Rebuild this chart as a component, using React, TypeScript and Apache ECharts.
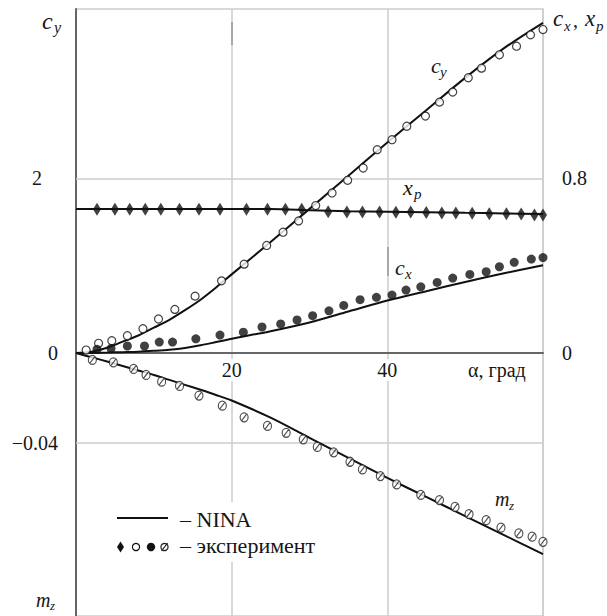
import React, { useEffect, useRef } from 'react';
import * as echarts from 'echarts';

// ---------- data ----------
const alphaLine = [0, 2, 4, 6, 8, 10, 12, 14, 16, 18, 20, 25, 30, 35, 40, 45, 50, 55, 60];
const cyLine = [0, 0.015, 0.06, 0.13, 0.2, 0.29, 0.38, 0.49, 0.61, 0.75, 0.9, 1.27, 1.65, 2.03, 2.41, 2.78, 3.15, 3.49, 3.78];
const cxLine = [0, 0.0005, 0.002, 0.004, 0.006, 0.01, 0.015, 0.023, 0.035, 0.05, 0.065, 0.1, 0.14, 0.19, 0.24, 0.283, 0.325, 0.365, 0.402];
const xpLine = [0.659, 0.659, 0.659, 0.659, 0.659, 0.659, 0.659, 0.659, 0.659, 0.659, 0.659, 0.659, 0.654, 0.649, 0.647, 0.645, 0.642, 0.639, 0.636];
const mzLine = [0, -0.0019, -0.0038, -0.0058, -0.0078, -0.0098, -0.012, -0.0142, -0.0164, -0.0187, -0.0212, -0.0288, -0.0378, -0.0468, -0.0557, -0.0642, -0.0727, -0.0812, -0.0897];

const alphaCyExp = [1.3, 2.9, 4.6, 6.6, 8.6, 10.6, 12.7, 15.3, 18.7, 21.6, 24.5, 26.6, 28.6, 30.8, 32.9, 34.9, 36.9, 38.7, 40.6, 42.5, 44.9, 46.7, 48.4, 50.4, 52.1, 54.4, 56.6, 58.4, 60.0];
const cyExp = [0.034, 0.111, 0.141, 0.198, 0.278, 0.389, 0.499, 0.651, 0.826, 1.017, 1.231, 1.383, 1.512, 1.688, 1.832, 1.977, 2.118, 2.328, 2.442, 2.596, 2.712, 2.872, 2.987, 3.151, 3.261, 3.414, 3.512, 3.642, 3.703];

const alphaCxExp = [2.7, 4.5, 6.6, 8.8, 10.7, 12.4, 15.4, 18.5, 21.5, 23.9, 26.3, 28.4, 30.4, 32.5, 34.4, 36.5, 38.6, 40.6, 42.4, 44.3, 46.4, 48.4, 50.6, 52.7, 54.4, 56.3, 58.5, 60.0];
const cxExp = [0.017, 0.021, 0.032, 0.032, 0.05, 0.05, 0.065, 0.082, 0.095, 0.119, 0.133, 0.151, 0.171, 0.193, 0.218, 0.244, 0.255, 0.265, 0.288, 0.303, 0.323, 0.343, 0.36, 0.372, 0.395, 0.415, 0.43, 0.437];

const alphaXpExp = [2.7, 5.0, 6.9, 8.9, 10.9, 13.3, 15.8, 18.5, 21.9, 24.6, 26.9, 29.0, 32.4, 34.8, 36.8, 39.0, 41.1, 43.0, 45.0, 47.0, 48.8, 50.9, 53.1, 55.3, 57.2, 58.9, 60.0];
const xpExp = [0.658, 0.658, 0.658, 0.658, 0.658, 0.658, 0.658, 0.658, 0.658, 0.658, 0.658, 0.658, 0.647, 0.646, 0.646, 0.646, 0.645, 0.646, 0.643, 0.641, 0.641, 0.64, 0.638, 0.638, 0.636, 0.632, 0.632];

const alphaMzExp = [2.1, 4.8, 7.4, 9.0, 11.0, 13.3, 15.8, 18.8, 21.6, 24.6, 27.0, 29.2, 31.0, 33.1, 35.2, 36.8, 39.1, 41.2, 44.3, 46.7, 48.7, 50.5, 52.7, 54.6, 56.9, 58.6, 60.0];
const mzExp = [-0.0031, -0.0042, -0.0071, -0.0098, -0.0128, -0.0147, -0.019, -0.0235, -0.0287, -0.0325, -0.0356, -0.0385, -0.0419, -0.0443, -0.0485, -0.0519, -0.0549, -0.0586, -0.0633, -0.0656, -0.0686, -0.0718, -0.0745, -0.0779, -0.0804, -0.0819, -0.0842];

const xTickLabels = [20, 40];
const cyTickLabels = [0, 2];
const cxTickLabels = [0, 0.8];
const mzTickLabels = [-0.04];
const cyGrid = [2];
const mzGrid = [-0.04];

// ---------- layout / style ----------
const SERIF = 'Liberation Serif';
const INK = '#161616';
const GRID_C = '#cdcdcd';
const W = 607, H = 616;
const G_LEFT = 76, G_RIGHT = 543, G_TOP = 9, G_BOTTOM = 616;
const ZERO_PX = 353;
const up = ZERO_PX - G_TOP, down = G_BOTTOM - ZERO_PX;
const CY_U = 87.35, CX_U = 218.4, MZ_U = 2242.5;

const pairs = (xs: number[], ys: number[]) => xs.map((x, i) => [x, ys[i]]);
const CROSSED = 'path://M1,10 A9,9 0 1,1 19,10 A9,9 0 1,1 1,10 Z M4,17 L16,3';

function txt(text: string, x: number, baseline: number, size: number, italic = false, align = 'left') {
  return {
    type: 'text',
    x,
    y: baseline - 0.34 * size,
    z: 50,
    style: {
      text,
      fontFamily: SERIF,
      fontSize: size,
      fontStyle: italic ? 'italic' : 'normal',
      fill: INK,
      textAlign: align,
      textVerticalAlign: 'middle',
    },
  };
}

export default function App() {
  const ref = useRef<HTMLDivElement>(null);
  useEffect(() => {
    const chart = echarts.init(ref.current!, null, { renderer: 'svg' });
    const labelStyle = { fontSize: 20, fontFamily: SERIF, color: INK };
    const option: any = {
      animation: false,
      backgroundColor: '#fff',
      grid: {
        left: G_LEFT, right: W - G_RIGHT, top: G_TOP, bottom: H - G_BOTTOM,
        containLabel: false, outerBoundsMode: 'none',
        show: true, borderColor: GRID_C, borderWidth: 1.5, backgroundColor: 'transparent',
      },
      xAxis: {
        type: 'value', min: 0, max: 60, interval: 20,
        position: 'bottom',
        offset: -(G_BOTTOM - ZERO_PX),
        axisLine: { onZero: false, lineStyle: { color: '#666', width: 2 } },
        axisTick: { show: false },
        splitLine: { show: true, lineStyle: { color: GRID_C, width: 1.5 } },
        axisLabel: {
          ...labelStyle,
          customValues: xTickLabels,
          formatter: (v: number) => (xTickLabels.includes(v) ? String(v) : ''),
          margin: 6,
          backgroundColor: '#fff',
          padding: [1, 3, 1, 3],
        },
      },
      yAxis: [
        {
          type: 'value', position: 'left', min: -down / CY_U, max: up / CY_U,
          splitLine: { show: false }, axisTick: { show: false },
          axisLine: { show: true, onZero: false, lineStyle: { color: '#666', width: 2 } },
          axisLabel: {
            ...labelStyle,
            customValues: cyTickLabels,
            margin: 18,
            formatter: (v: number) => (Math.abs(v - 2) < 1e-9 ? '{p|2}' : Math.abs(v) < 1e-9 ? '0' : ''),
            rich: { p: { ...labelStyle, padding: [0, 16, 0, 0] } },
          },
        },
        {
          type: 'value', position: 'right', min: -down / CX_U, max: up / CX_U,
          splitLine: { show: false }, axisTick: { show: false }, axisLine: { show: false },
          axisLabel: {
            ...labelStyle,
            customValues: cxTickLabels,
            margin: 19,
            formatter: (v: number) => (Math.abs(v - 0.8) < 1e-9 ? '0.8' : Math.abs(v) < 1e-9 ? '0' : ''),
          },
        },
        {
          type: 'value', position: 'left', min: -down / MZ_U, max: up / MZ_U,
          splitLine: { show: false }, axisTick: { show: false }, axisLine: { show: false },
          axisLabel: {
            ...labelStyle,
            customValues: mzTickLabels,
            margin: 18,
            formatter: (v: number) => (Math.abs(v + 0.04) < 1e-9 ? '\u22120.04' : ''),
          },
        },
      ],
      series: [
        {
          type: 'line', yAxisIndex: 0, data: pairs(alphaLine, cyLine), showSymbol: false, smooth: 0.3,
          lineStyle: { color: '#111', width: 2 }, z: 3,
          markLine: {
            silent: true, symbol: 'none', label: { show: false },
            lineStyle: { color: GRID_C, width: 1.5, type: 'solid' },
            data: cyGrid.map((v) => ({ yAxis: v })), z: 1,
          },
        },
        { type: 'line', yAxisIndex: 1, data: pairs(alphaLine, cxLine), showSymbol: false, smooth: 0.3, lineStyle: { color: '#111', width: 2 }, z: 3 },
        { type: 'line', yAxisIndex: 1, data: pairs(alphaLine, xpLine), showSymbol: false, smooth: 0.3, lineStyle: { color: '#111', width: 2 }, z: 3 },
        {
          type: 'line', yAxisIndex: 2, data: pairs(alphaLine, mzLine), showSymbol: false, smooth: 0.3,
          lineStyle: { color: '#111', width: 2 }, z: 3,
          markLine: {
            silent: true, symbol: 'none', label: { show: false },
            lineStyle: { color: GRID_C, width: 1.5, type: 'solid' },
            data: mzGrid.map((v) => ({ yAxis: v })), z: 1,
          },
        },
        {
          type: 'scatter', yAxisIndex: 0, data: pairs(alphaCyExp, cyExp), symbol: 'circle', symbolSize: 8, clip: false,
          itemStyle: { color: '#fff', borderColor: '#111', borderWidth: 1.2 }, z: 5,
        },
        {
          type: 'scatter', yAxisIndex: 1, data: pairs(alphaCxExp, cxExp), symbol: 'circle', symbolSize: 9, clip: false,
          itemStyle: { color: '#111' }, z: 5,
        },
        {
          type: 'scatter', yAxisIndex: 1, data: pairs(alphaXpExp, xpExp), symbol: 'diamond', symbolSize: [8, 13], clip: false,
          itemStyle: { color: '#111' }, z: 5,
        },
        {
          type: 'scatter', yAxisIndex: 2, data: pairs(alphaMzExp, mzExp), symbol: CROSSED, symbolSize: [8, 9], clip: false,
          itemStyle: { color: '#fff', borderColor: '#222', borderWidth: 1.2 }, z: 5,
        },
      ],
      graphic: [
        // axis titles
        txt('c', 42, 29, 24, true), txt('y', 54, 33, 16, true),
        txt('c', 553, 26.5, 23, true), txt('x', 564, 31.5, 15, true), txt(',', 573, 27, 20),
        txt('x', 585, 26.5, 23, true), txt('p', 596, 31.5, 15, true),
        txt('m', 36, 606.5, 20, true), txt('z', 50, 609.5, 13, true),
        txt('\u03b1, \u0433\u0440\u0430\u0434', 468, 377, 20),
        // curve labels
        txt('c', 431, 72.5, 22, true), txt('y', 440, 77, 15, true),
        txt('x', 403, 195, 22, true), txt('p', 414, 199, 15, true),
        txt('c', 395, 275, 22, true), txt('x', 405, 279.5, 15, true),
        txt('m', 495, 506, 20, true), txt('z', 509, 509.5, 13, true),
        // gridline remnants
        { type: 'line', shape: { x1: 232, y1: 22, x2: 232, y2: 45 }, style: { stroke: '#777', lineWidth: 1 }, z: 40 },
        { type: 'line', shape: { x1: 388, y1: 247, x2: 388, y2: 276 }, style: { stroke: '#777', lineWidth: 1 }, z: 40 },
        // legend
        {
          type: 'group', z: 45,
          children: [
            { type: 'rect', shape: { x: 112, y: 502, width: 222, height: 60 }, style: { fill: '#fff' }, z: 45 },
            { type: 'line', shape: { x1: 117, y1: 518, x2: 168, y2: 518 }, style: { stroke: '#111', lineWidth: 2 }, z: 46 },
            { type: 'polygon', shape: { points: [[120.5, 541.5], [124, 547], [120.5, 552.5], [117, 547]] }, style: { fill: '#111' }, z: 46 },
            { type: 'circle', shape: { cx: 136, cy: 547, r: 3.6 }, style: { fill: '#fff', stroke: '#111', lineWidth: 1.2 }, z: 46 },
            { type: 'circle', shape: { cx: 151, cy: 547, r: 4.2 }, style: { fill: '#111' }, z: 46 },
            { type: 'circle', shape: { cx: 164.5, cy: 547, r: 3.6 }, style: { fill: '#fff', stroke: '#222', lineWidth: 1.2 }, z: 46 },
            { type: 'line', shape: { x1: 161.5, y1: 551, x2: 167.5, y2: 543 }, style: { stroke: '#222', lineWidth: 1.2 }, z: 47 },
          ],
        },
        txt('\u2013 NINA', 180, 526.5, 22),
        txt('\u2013 \u044d\u043a\u0441\u043f\u0435\u0440\u0438\u043c\u0435\u043d\u0442', 180, 553, 22),
      ],
    };
    chart.setOption(option);
    return () => chart.dispose();
  }, []);
  return (
    <div
      ref={ref}
      style={{ position: 'absolute', left: 0, top: 0, width: W, height: H, background: '#fff' }}
    />
  );
}
